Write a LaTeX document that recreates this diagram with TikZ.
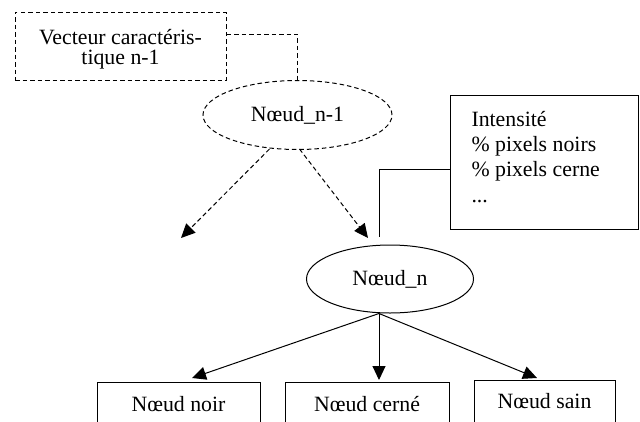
\documentclass[tikz,border=0pt]{standalone}
\usepackage{fontspec}
\setmainfont{Liberation Serif}
\usetikzlibrary{shapes.geometric,arrows.meta}
\begin{document}
\begin{tikzpicture}[x=1pt,y=-1pt,
  line width=1pt,
  txt/.style={font=\fontsize{21.8}{20}\selectfont},
  dsh/.style={dash pattern=on 4.5pt off 3pt},
  tip/.style={-{Triangle[length=14pt,width=13pt]}},
  ell/.style={ellipse,draw,inner sep=0pt,txt},
  leaf/.style={draw,anchor=north,inner xsep=0pt,inner ysep=0pt,text depth=40pt,txt}
]
\clip (0,0) rectangle (640,421);
\node[draw,dsh,txt,align=center,minimum width=211pt,inner xsep=0pt,inner ysep=0pt,text height=52pt,text depth=16pt] (vec) at (120.5,46) {Vecteur caractéris-\\tique n-1};
\node[ell,dsh,minimum width=189pt,minimum height=69pt] (n1) at (297.5,115) {Nœud\_n-1};
\node[draw,txt,anchor=north west,minimum width=188pt,minimum height=134pt,inner sep=0pt] (info) at (450,95) {};
\node[anchor=base west,align=left,inner sep=0pt,font=\fontsize{21.8}{25.3}\selectfont] (infotxt) at (471,202) {Intensité\\\% pixels noirs\\\% pixels cerne\\...};
\node[ell,minimum width=167pt,minimum height=68pt] (n2) at (390,279) {Nœud\_n};
\node[leaf,minimum width=163pt,text height=29pt] (b1) at (178.5,382) {Nœud noir};
\node[leaf,minimum width=164pt,text height=29pt] (b2) at (367,382) {Nœud cerné};
\node[leaf,minimum width=141pt,text height=28pt] (b3) at (544.5,380) {Nœud sain};
\coordinate (la) at (181,238);
\coordinate (ra) at (368,238);
\coordinate (cb) at (379,237);
\draw[dsh] ([yshift=12pt]vec.east) -| (n1.north);
\draw[dsh,tip] ([xshift=-28pt,yshift=1pt]n1.south) -- (la);
\draw[dsh,tip] ([xshift=2pt,yshift=1pt]n1.south) -- (ra);
\draw ([yshift=-7pt]info.west) -| (cb);
\draw[tip] ([xshift=-11pt]n2.south) -- ([xshift=13.5pt,yshift=4pt]b1.north);
\draw[tip] ([xshift=-11pt]n2.south) -- ([xshift=12pt,yshift=2pt]b2.north);
\draw[tip] ([xshift=-11pt]n2.south) -- ([xshift=-7.5pt,yshift=2pt]b3.north);
\end{tikzpicture}
\end{document}
